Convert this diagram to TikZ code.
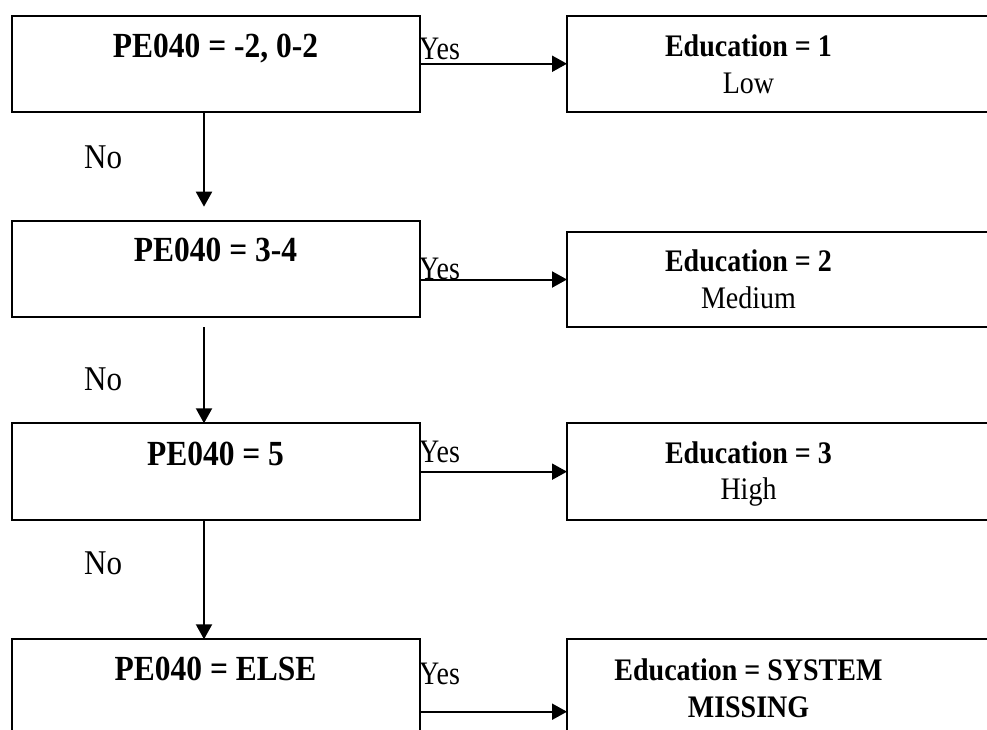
\documentclass[tikz,border=0pt]{standalone}
\usepackage{graphicx}
\usepackage{fontspec}
\setmainfont{Liberation Serif}
\usetikzlibrary{arrows.meta}
\newcommand{\tallA}[1]{\scalebox{1}[1.12]{#1}}
\newcommand{\tallB}[1]{\scalebox{1}[1.17]{#1}}
\begin{document}
\begin{tikzpicture}[x=1pt,y=-1pt,
  box/.style={draw, line width=2pt, rectangle, inner sep=0pt, outer sep=0pt},
  lbox/.style={box, minimum width=408pt},
  rbox/.style={box, minimum width=440pt},
  arr/.style={line width=2pt, -{Triangle[length=15pt,width=16pt]}},
  cond/.style={font=\fontsize{31.5}{36}\selectfont\bfseries, anchor=base, inner sep=0pt},
  res/.style={font=\fontsize{28}{32}\selectfont\bfseries, anchor=base, inner sep=0pt},
  cat/.style={font=\fontsize{28}{32}\selectfont, anchor=base, inner sep=0pt},
  yes/.style={font=\fontsize{28}{32}\selectfont, anchor=base west, inner sep=0pt},
  no/.style={font=\fontsize{31}{34}\selectfont, anchor=base west, inner sep=0pt}]
\useasboundingbox (0,0) rectangle (987,729);
\clip (0,0) rectangle (987,729);
\fill[white] (0,0) rectangle (987,729);

% left condition boxes
\node[lbox, minimum height=95.5pt] (b1) at (216,63.75) {};
\node[lbox, minimum height=96pt] (b2) at (216,268.5) {};
\node[lbox, minimum height=96.7pt] (b3) at (216,471.65) {};
\node[lbox, minimum height=96pt] (b4) at (216,687.3) {};

% right result boxes
\node[rbox, minimum height=96pt] (r1) at (787,63.75) {};
\node[rbox, minimum height=95.6pt] (r2) at (787,279.5) {};
\node[rbox, minimum height=96.7pt] (r3) at (787,471.65) {};
\node[rbox, minimum height=96pt] (r4) at (787,687.3) {};

% condition texts
\node[cond] (t1) at (215.5,57) {\tallA{PE040 = -2, 0-2}};
\node[cond] (t2) at (215.5,261.7) {\tallA{PE040 = 3-4}};
\node[cond] (t3) at (215.5,465) {\tallA{PE040 = 5}};
\node[cond] (t4) at (215.5,680) {\tallA{PE040 = ELSE}};

% result texts
\node[res] (e1) at (748.5,56) {\tallA{Education = 1}};
\node[cat] (c1) at (748.5,93.5) {\tallA{Low}};
\node[res] (e2) at (748.5,271) {\tallA{Education = 2}};
\node[cat] (c2) at (748.5,308) {\tallA{Medium}};
\node[res] (e3) at (748.5,463) {\tallA{Education = 3}};
\node[cat] (c3) at (748.5,499.3) {\tallA{High}};
\node[res] (e4) at (748.5,680) {\tallA{Education = SYSTEM}};
\node[res] (c4) at (748.5,717) {\tallA{MISSING}};

% Yes / No labels
\node[yes] (y1) at (419,59.5) {\tallB{Yes}};
\node[yes] (y2) at (419,279.3) {\tallB{Yes}};
\node[yes] (y3) at (419,462.7) {\tallB{Yes}};
\node[yes] (y4) at (419,684) {\tallB{Yes}};
\node[no] (n1) at (84,168) {\tallA{No}};
\node[no] (n2) at (84,390) {\tallA{No}};
\node[no] (n3) at (84,574) {\tallA{No}};

% vertical connectors
\coordinate (v1e) at (204,206.7);
\coordinate (v2s) at (204,327);
\coordinate (v2x) at (204,0);
\draw[arr] (b1.south -| v1e) -- (v1e);
\draw[arr] (v2s) -- (b3.north -| v2x);
\draw[arr] (b3.south -| v2x) -- (b4.north -| v2x);

% horizontal connectors
\coordinate (h4) at (0,711.7);
\draw[arr] (b1.east) -- (r1.west |- b1.east);
\draw[arr] (b2.east |- r2.west) -- (r2.west);
\draw[arr] (b3.east) -- (r3.west);
\draw[arr] (b4.east |- h4) -- (r4.west |- h4);
\end{tikzpicture}
\end{document}
